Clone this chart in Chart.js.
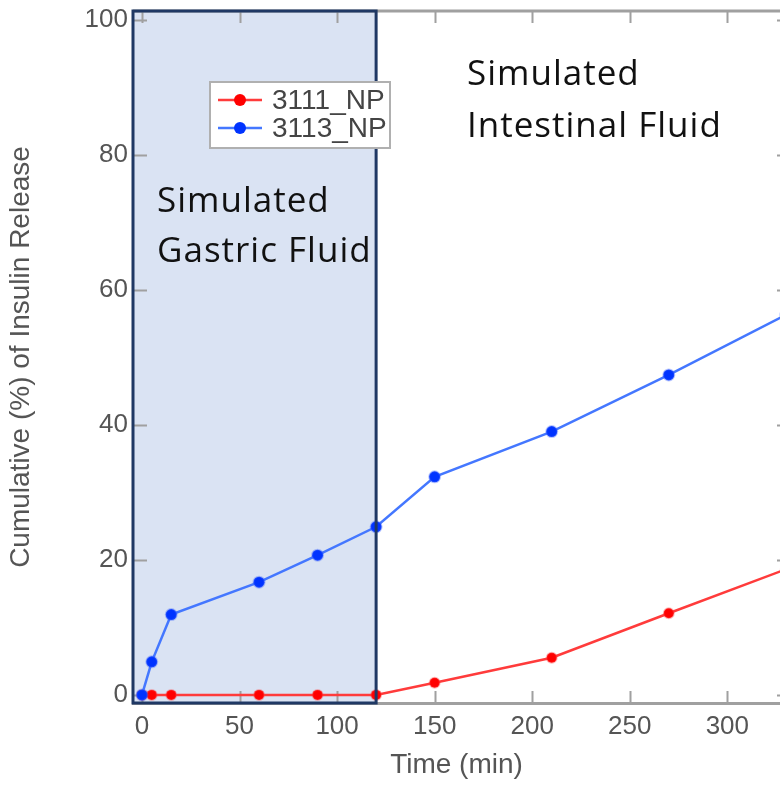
<!DOCTYPE html>
<html>
<head>
<meta charset="utf-8">
<script src="https://cdn.jsdelivr.net/npm/chart.js@4/dist/chart.umd.min.js"></script>
<style>
  html, body { margin: 0; padding: 0; background: #fff; }
  #wrap { width: 780px; height: 786px; }
</style>
</head>
<body>
<div id="wrap"><canvas id="myChart" width="780" height="786"></canvas></div>
<script>
// time points (min)
var times = [0, 5, 15, 60, 90, 120, 150, 210, 270, 330];
// cumulative insulin release (%)
var np3111 = [0, 0, 0, 0, 0, 0, 1.8, 5.5, 12.1, 18.6];
var np3113 = [0, 4.9, 11.9, 16.7, 20.7, 24.9, 32.3, 39.0, 47.4, 56.3];
var seriesNames = ['3111_NP', '3113_NP'];
var xTicks = [0, 50, 100, 150, 200, 250, 300];
var yTicks = [0, 20, 40, 60, 80, 100];
var gastricEnd = 120;

function toPoints(vals) {
    return times.map(function (t, i) { return { x: t, y: vals[i] }; });
}

const tickFont = { family: 'Liberation Sans', size: 26 };
const grayText = '#555555';

// shaded gastric phase, inner tick marks, phase labels and legend box
const phasePlugin = {
    id: 'phase',
    beforeDatasetsDraw(chart) {
        const ctx = chart.ctx;
        const xs = chart.scales.x, ys = chart.scales.y;
        const area = chart.chartArea;
        const x0 = area.left;
        const x1 = xs.getPixelForValue(gastricEnd);
        ctx.save();
        ctx.fillStyle = '#dae3f3';
        ctx.fillRect(x0, area.top, x1 - x0, area.bottom - area.top);

        // inner ticks (the right axis sits just past the crop, only its tips show)
        ctx.strokeStyle = '#a0a0a0';
        ctx.lineWidth = 2;
        yTicks.forEach(function (v) {
            const py = Math.round(ys.getPixelForValue(v)) + 0.5;
            ctx.beginPath();
            ctx.moveTo(area.left, py);
            ctx.lineTo(area.left + 14, py);
            ctx.moveTo(area.right, py);
            ctx.lineTo(area.right - 3, py);
            ctx.stroke();
        });
        xTicks.forEach(function (v) {
            const px = Math.round(xs.getPixelForValue(v)) + 0.5;
            ctx.beginPath();
            ctx.moveTo(px, area.bottom);
            ctx.lineTo(px, area.bottom - 12);
            ctx.moveTo(px, area.top);
            ctx.lineTo(px, area.top + 12);
            ctx.stroke();
        });
        // top frame line
        ctx.beginPath();
        ctx.lineWidth = 3;
        ctx.moveTo(area.left, area.top);
        ctx.lineTo(area.right, area.top);
        ctx.stroke();
        ctx.restore();
    },
    afterDatasetsDraw(chart) {
        const ctx = chart.ctx;
        const xs = chart.scales.x;
        const area = chart.chartArea;
        const x1 = xs.getPixelForValue(gastricEnd);
        ctx.save();
        ctx.strokeStyle = '#1f3864';
        ctx.lineWidth = 3;
        ctx.strokeRect(area.left, area.top, x1 - area.left, area.bottom - area.top);

        // phase labels
        ctx.fillStyle = '#111';
        ctx.font = '35px "Open Sans"';
        ctx.letterSpacing = '1px';
        ctx.textBaseline = 'alphabetic';
        ctx.fillText('Simulated', area.left + 24, area.top + 201);
        ctx.fillText('Gastric Fluid', area.left + 24, area.top + 251);
        ctx.fillText('Simulated', area.left + 334, area.top + 74);
        ctx.fillText('Intestinal Fluid', area.left + 334, area.top + 126);
        ctx.letterSpacing = '0px';

        // legend box
        const lx = area.left + 77, ly = area.top + 71, lw = 180, lh = 66;
        ctx.fillStyle = '#fff';
        ctx.fillRect(lx, ly, lw, lh);
        ctx.strokeStyle = '#b0b0b0';
        ctx.lineWidth = 2;
        ctx.strokeRect(lx, ly, lw, lh);
        const colors = [['#ff3b3b', '#ff0000'], ['#4477ff', '#0033ff']];
        seriesNames.forEach(function (name, i) {
            const cy = ly + 18 + i * 28;
            ctx.strokeStyle = colors[i][0];
            ctx.lineWidth = 2.5;
            ctx.beginPath();
            ctx.moveTo(lx + 8, cy);
            ctx.lineTo(lx + 52, cy);
            ctx.stroke();
            ctx.fillStyle = colors[i][1];
            ctx.beginPath();
            ctx.arc(lx + 30, cy, 6, 0, Math.PI * 2);
            ctx.fill();
            ctx.fillStyle = '#444';
            ctx.font = '28px "Liberation Sans"';
            ctx.textBaseline = 'middle';
            ctx.fillText(name, lx + 62, cy + 1);
        });
        ctx.restore();
    }
};

const data = {
    datasets: [{
        label: seriesNames[0],
        data: toPoints(np3111),
        borderColor: '#ff3b3b',
        backgroundColor: '#ff0000',
        borderWidth: 2.5,
        pointRadius: 5,
        pointBorderWidth: 2,
        pointBorderColor: 'rgba(255, 60, 60, 0.35)',
        order: 2
    }, {
        label: seriesNames[1],
        data: toPoints(np3113),
        borderColor: '#4477ff',
        backgroundColor: '#0033ff',
        borderWidth: 2.5,
        pointRadius: 5.5,
        pointBorderWidth: 2,
        pointBorderColor: 'rgba(60, 100, 255, 0.35)',
        order: 1
    }]
};

const config = {
    type: 'line',
    data: data,
    options: {
        responsive: false,
        animation: false,
        layout: { autoPadding: false, padding: { top: 11, right: 0, left: 0, bottom: 0 } },
        plugins: {
            legend: { display: false },
            tooltip: { enabled: false }
        },
        scales: {
            x: {
                type: 'linear',
                min: -4.6,
                max: 327,
                grid: { display: false, drawTicks: false },
                border: { display: true, color: '#a0a0a0', width: 3 },
                afterBuildTicks: function (axis) {
                    axis.ticks = xTicks.map(function (v) { return { value: v }; });
                },
                ticks: { font: tickFont, color: grayText, padding: 8, maxRotation: 0 },
                title: {
                    display: true,
                    text: 'Time (min)',
                    font: { family: 'Liberation Sans', size: 28 },
                    color: grayText,
                    padding: { top: 4 }
                },
                afterFit: function (axis) {
                    axis.height = 83;
                    axis.paddingLeft = 0;
                    axis.paddingRight = 0;
                }
            },
            y: {
                min: -1.2,
                max: 101.3,
                grid: { display: false, drawTicks: false },
                border: { display: true, color: '#a0a0a0', width: 3 },
                afterBuildTicks: function (axis) {
                    axis.ticks = yTicks.map(function (v) { return { value: v }; });
                },
                ticks: { font: tickFont, color: grayText, padding: 5 },
                title: {
                    display: true,
                    text: 'Cumulative (%) of Insulin Release',
                    font: { family: 'Liberation Sans', size: 28 },
                    color: grayText,
                    padding: { bottom: 0 }
                },
                afterFit: function (axis) {
                    axis.width = 133;
                    axis.paddingTop = 0;
                    axis.paddingBottom = 0;
                }
            }
        }
    },
    plugins: [phasePlugin]
};

(function () {
    const myChart = new Chart(document.getElementById('myChart'), config);
})();
</script>
</body>
</html>
